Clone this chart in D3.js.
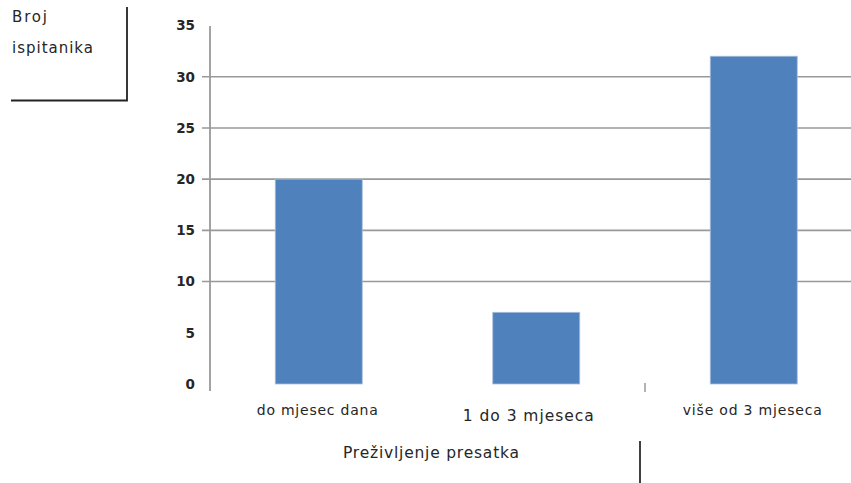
<!DOCTYPE html>
<html>
<head>
<meta charset="utf-8">
<script src="https://cdn.jsdelivr.net/npm/d3@7"></script>
<style>
  body{margin:0;background:#fff;}
  svg{display:block;}
  text{font-family:"DejaVu Sans",sans-serif;fill:#262626;}
</style>
</head>
<body>
<svg id="chart"></svg>
<script>
// podaci
var categories=["do mjesec dana","1 do 3 mjeseca","više od 3 mjeseca"];
var values=[20,7,32];
var yTicks=[0,5,10,15,20,25,30,35];
var gridTicks=[10,15,20,25,30];
var yTitle=["Broj","ispitanika"];
var xTitle="Preživljenje presatka";

var WIDTH=851,HEIGHT=483;
var svg=d3.select("#chart").attr("width",WIDTH).attr("height",HEIGHT);

var y=d3.scaleLinear().domain([0,35]).range([384,25.5]);
var x=d3.scaleBand().domain(categories).range([210,862.5]).paddingInner(0.6).paddingOuter(0.3);

// mreza + crtice lijevo od osi
svg.append("g").selectAll("line").data(gridTicks).enter().append("line")
    .attr("x1",202).attr("x2",WIDTH)
    .attr("y1",d=>y(d)).attr("y2",d=>y(d))
    .attr("stroke","#999").attr("stroke-width",1.6);

// stupci
svg.append("g").selectAll("rect").data(values).enter().append("rect")
    .attr("x",(d,i)=>x(categories[i]))
    .attr("y",d=>y(d))
    .attr("width",x.bandwidth())
    .attr("height",d=>y(0)-y(d))
    .attr("fill","#4f81bd")
    .attr("stroke","#a7bfdc").attr("stroke-width",0.8);

// y os
var yAxis=svg.append("g").attr("transform","translate(210,0)")
    .call(d3.axisLeft(y).tickValues(yTicks).tickSize(0).tickPadding(15));
yAxis.select(".domain").remove();
yAxis.selectAll("text").attr("font-size",13.5).attr("font-weight","bold")
    .style("font-family","'DejaVu Sans',sans-serif").attr("fill","#3a3a3a");
svg.append("line").attr("x1",210).attr("x2",210).attr("y1",26).attr("y2",391)
    .attr("stroke","#999").attr("stroke-width",1.8);

// mala crtica izmedju kategorija
var bx=x(categories[2])-x.step()*x.paddingInner()/2;
svg.append("line").attr("x1",bx).attr("x2",bx).attr("y1",383).attr("y2",392)
    .attr("stroke","#999").attr("stroke-width",1.5);

// oznake kategorija (sirine prema slici)
var labelW=[121,131,139];
svg.append("g").selectAll("text").data(categories).enter().append("text")
    .attr("x",(d,i)=>x(d)+x.bandwidth()/2-(i==1?8:1.5))
    .attr("y",(d,i)=>i==1?421:415)
    .attr("text-anchor","middle")
    .attr("font-size",(d,i)=>i==1?15.5:14)
    .attr("textLength",(d,i)=>labelW[i]).attr("lengthAdjust","spacing")
    .text(d=>d);

// naslov x osi
svg.append("text").attr("x",431).attr("y",458).attr("text-anchor","middle")
    .attr("font-size",15.5).attr("fill","#2a2230")
    .attr("textLength",176).attr("lengthAdjust","spacing").text(xTitle);
svg.append("line").attr("x1",640).attr("x2",640).attr("y1",441).attr("y2",HEIGHT)
    .attr("stroke","#000").attr("stroke-width",1.5);

// okvir s naslovom y osi
var yTitleW=[35,81];
svg.append("g").selectAll("text").data(yTitle).enter().append("text")
    .attr("x",12).attr("y",(d,i)=>22+i*31)
    .attr("font-size",15)
    .attr("textLength",(d,i)=>yTitleW[i]).attr("lengthAdjust","spacing")
    .text(d=>d);
svg.append("path").attr("d","M127,7V100.5H11")
    .attr("fill","none").attr("stroke","#222").attr("stroke-width",1.8);
</script>
</body>
</html>
